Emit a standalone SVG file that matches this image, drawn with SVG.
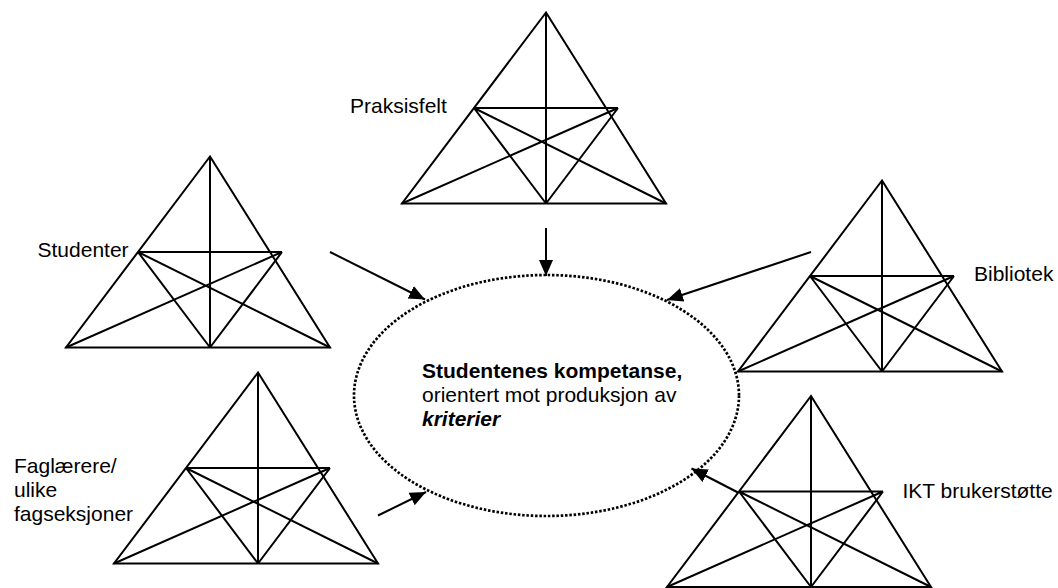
<svg xmlns="http://www.w3.org/2000/svg" xmlns:xlink="http://www.w3.org/1999/xlink" width="1058" height="588" viewBox="0 0 1058 588">
  <style>
    .tri { fill: none; stroke: #000; stroke-width: 2; }
    .lbl { font-family: "Liberation Sans", Arial, sans-serif; font-size: 21px; fill: #000; }
    .conn { stroke: #000; stroke-width: 2; fill: none; marker-end: url(#arrow); }
    .ell { fill: none; stroke: #000; stroke-width: 2.7; stroke-dasharray: 2.5 1.8; }
  </style>
  <defs>
    <marker id="arrow" markerUnits="userSpaceOnUse" markerWidth="18" markerHeight="16" refX="16" refY="7" orient="auto">
      <path d="M0,0 L16,7 L0,14 Z" fill="#000"/>
    </marker>
    <g id="tri">
      <path class="tri" d="M0,0 L-144,191 L120,191 Z"/>
      <path class="tri" d="M0,0 V191 M-72,95.5 H72 M-72,95.5 L120,191 M-72,95.5 L0,191 M-144,191 L72,95.5 M0,191 L72,95.5"/>
    </g>
  </defs>
  <rect width="1058" height="588" fill="#fff"/>

  <g id="center">
    <ellipse class="ell" cx="546.5" cy="395.5" rx="192.5" ry="120.5"/>
    <text class="lbl" x="422" y="377.5" font-weight="bold">Studentenes kompetanse,</text>
    <text class="lbl" x="422" y="402">orientert mot produksjon av</text>
    <text class="lbl" x="422" y="426" font-weight="bold" font-style="italic">kriterier</text>
  </g>

  <g id="praksisfelt">
    <use xlink:href="#tri" href="#tri" transform="translate(546,12.5)"/>
    <text class="lbl" x="350" y="113">Praksisfelt</text>
  </g>

  <g id="studenter">
    <use xlink:href="#tri" href="#tri" transform="translate(210,156.5)"/>
    <text class="lbl" x="37.5" y="257">Studenter</text>
  </g>

  <g id="bibliotek">
    <use xlink:href="#tri" href="#tri" transform="translate(882,180.5)"/>
    <text class="lbl" x="974" y="281">Bibliotek</text>
  </g>

  <g id="faglaerere">
    <use xlink:href="#tri" href="#tri" transform="translate(258,372.5)"/>
    <text class="lbl" x="14" y="473">Faglærere/</text>
    <text class="lbl" x="14" y="497">ulike</text>
    <text class="lbl" x="14" y="521">fagseksjoner</text>
  </g>

  <g id="ikt">
    <use xlink:href="#tri" href="#tri" transform="translate(811,396)"/>
    <text class="lbl" x="902.5" y="498">IKT brukerstøtte</text>
  </g>

  <g id="connectors">
    <line class="conn" x1="330" y1="252" x2="425" y2="299.5"/>
    <line class="conn" x1="546" y1="228" x2="546" y2="276"/>
    <line class="conn" x1="811" y1="252" x2="667" y2="300"/>
    <line class="conn" x1="378" y1="515.5" x2="426" y2="492"/>
    <line class="conn" x1="738" y1="492.5" x2="691.5" y2="468.5"/>
  </g>
</svg>
